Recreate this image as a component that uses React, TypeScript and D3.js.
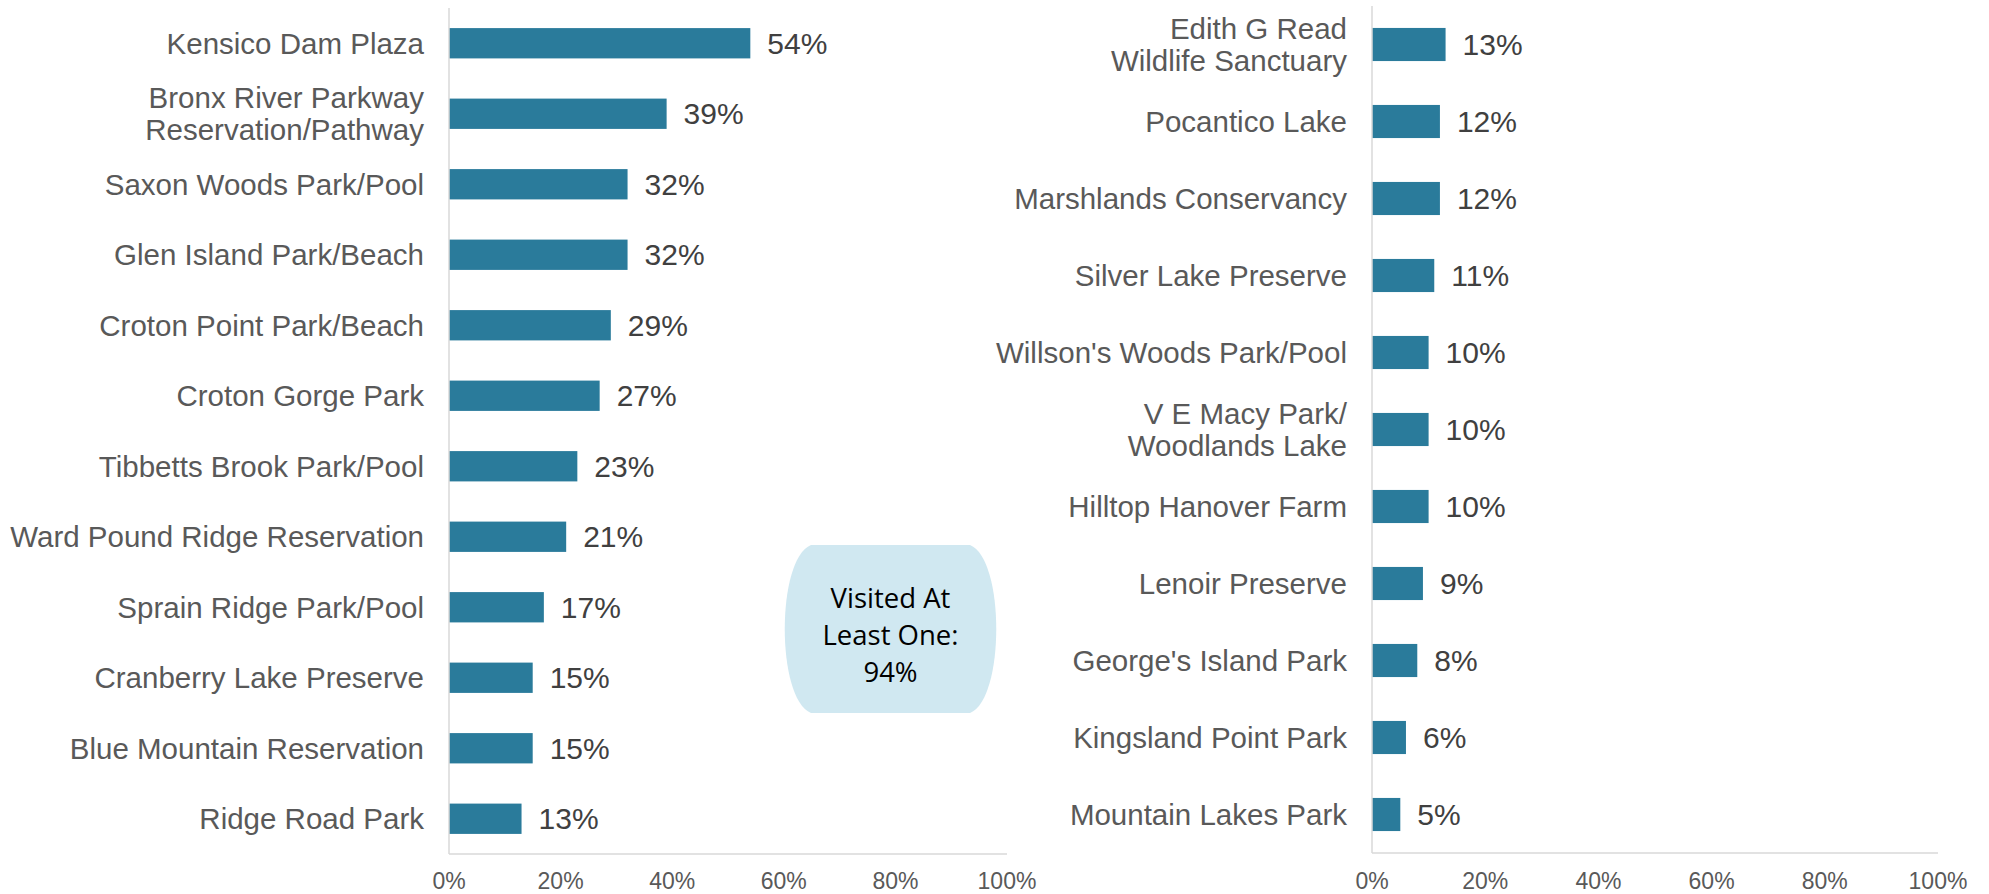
import React from "react";
import * as d3 from "d3";

const leftCategories = [
  "Kensico Dam Plaza",
  "Bronx River Parkway\nReservation/Pathway",
  "Saxon Woods Park/Pool",
  "Glen Island Park/Beach",
  "Croton Point Park/Beach",
  "Croton Gorge Park",
  "Tibbetts Brook Park/Pool",
  "Ward Pound Ridge Reservation",
  "Sprain Ridge Park/Pool",
  "Cranberry Lake Preserve",
  "Blue Mountain Reservation",
  "Ridge Road Park",
];
const leftValues = [54, 39, 32, 32, 29, 27, 23, 21, 17, 15, 15, 13];

const rightCategories = [
  "Edith G Read\nWildlife Sanctuary",
  "Pocantico Lake",
  "Marshlands Conservancy",
  "Silver Lake Preserve",
  "Willson's Woods Park/Pool",
  "V E Macy Park/\nWoodlands Lake",
  "Hilltop Hanover Farm",
  "Lenoir Preserve",
  "George's Island Park",
  "Kingsland Point Park",
  "Mountain Lakes Park",
];
const rightValues = [13, 12, 12, 11, 10, 10, 10, 9, 8, 6, 5];

const tickValues = [0, 20, 40, 60, 80, 100];
const calloutLines = ["Visited At", "Least One:", "94%"];

const BAR = "#2A7B9B";
const AXIS = "#D9D9D9";
const LABEL = "#595959";
const VALUE = "#404040";
const FONT = "'Liberation Sans', Arial, sans-serif";

type PanelProps = {
  cats: string[];
  vals: number[];
  x0: number;
  x1: number;
  y0: number;
  y1: number;
};

function Panel({ cats, vals, x0, x1, y0, y1 }: PanelProps) {
  const x = d3.scaleLinear().domain([0, 100]).range([x0, x1]);
  const y = d3.scaleBand<string>().domain(cats).range([y0, y1]).paddingInner(0.57).paddingOuter(0.285);
  const lineGap = 32;
  return (
    <g>
      {cats.map((c, i) => {
        const cy = (y(c) as number) + y.bandwidth() / 2;
        const lines = c.split("\n");
        return (
          <g key={c}>
            <rect x={x(0)} y={y(c)} width={x(vals[i]) - x(0)} height={y.bandwidth()} fill={BAR} />
            {lines.map((ln, j) => (
              <text
                key={j}
                x={x(0) - 25}
                y={cy + 10.5 + (j - (lines.length - 1) / 2) * lineGap}
                textAnchor="end"
                fontSize={29.5}
                fill={LABEL}
                fontFamily={FONT}
              >
                {ln}
              </text>
            ))}
            <text x={x(vals[i]) + 17} y={cy + 10.5} fontSize={30} fill={VALUE} fontFamily={FONT}>
              {vals[i]}%
            </text>
          </g>
        );
      })}
      <line x1={x(0)} x2={x(0)} y1={y0} y2={y1} stroke={AXIS} strokeWidth={1.5} />
      <line x1={x(0)} x2={x(100)} y1={y1} y2={y1} stroke={AXIS} strokeWidth={1.5} />
      {tickValues.map((t) => (
        <text key={t} x={x(t)} y={889} textAnchor="middle" fontSize={23} fill={LABEL} fontFamily={FONT}>
          {t}%
        </text>
      ))}
    </g>
  );
}

export default function App() {
  const bx0 = 785, bx1 = 996, by0 = 545, by1 = 713;
  const inset = 26;
  const ctrl = 9;
  const path = `M${bx0 + inset},${by0} H${bx1 - inset} C${bx1 + ctrl},${by0 + 14} ${bx1 + ctrl},${by1 - 14} ${bx1 - inset},${by1} H${bx0 + inset} C${bx0 - ctrl},${by1 - 14} ${bx0 - ctrl},${by0 + 14} ${bx0 + inset},${by0} Z`;
  const cx = (bx0 + bx1) / 2;
  return (
    <svg
      width={1989}
      height={894}
      style={{ position: "absolute", left: 0, top: 0, background: "#fff" }}
    >
      <rect width={1989} height={894} fill="#fff" />
      <Panel cats={leftCategories} vals={leftValues} x0={449} x1={1007} y0={8} y1={854} />
      <Panel cats={rightCategories} vals={rightValues} x0={1372} x1={1938} y0={6} y1={853} />
      <path d={path} fill="#D0E8F1" />
      {calloutLines.map((t, i) => (
        <text
          key={t}
          x={cx}
          y={608 + i * 37}
          textAnchor="middle"
          fontSize={27.5}
          fill="#000"
          fontFamily="'Open Sans', 'Noto Sans', sans-serif"
        >
          {t}
        </text>
      ))}
    </svg>
  );
}
